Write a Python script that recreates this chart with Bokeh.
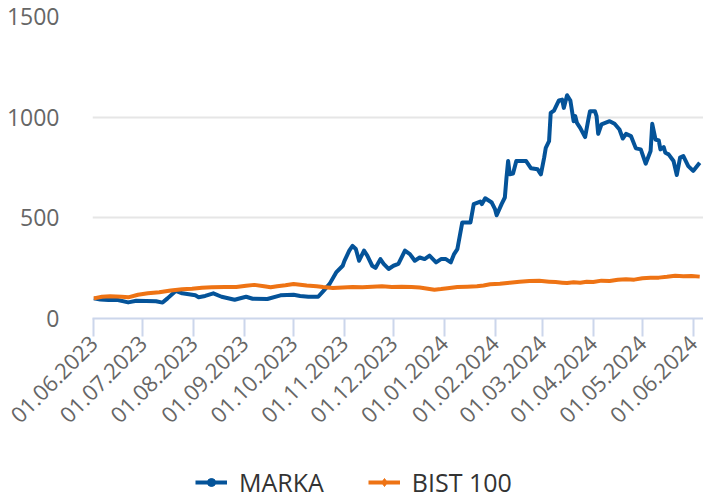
import math
import pandas as pd
from bokeh.plotting import figure
from bokeh.layouts import column
from bokeh.models import Range1d, FixedTicker, DatetimeTickFormatter, Legend, LegendItem
from bokeh.embed import file_html
from bokeh.resources import INLINE

start_date = pd.Timestamp("2023-06-01")

# MARKA (rebased to 100) - day offsets from 01.06.2023 and values
marka_day = [0, 4, 9, 14, 21, 26, 38, 42, 45, 50, 54, 58, 62, 64, 68, 73, 78, 86, 93, 97,
             106, 114, 122, 126, 131, 137, 140, 144, 148, 152, 153, 156, 158, 160, 162, 165,
             167, 170, 172, 175, 177, 180, 183, 186, 190, 193, 196, 199, 202, 205, 209, 212,
             215, 218, 220, 222, 225, 228, 230, 232, 236, 237, 239, 243, 245, 246, 249, 251,
             252, 253, 254, 256, 258, 264, 267, 271, 273, 275, 276, 278, 279, 281, 284, 286,
             287, 289, 291, 293, 294, 295, 297, 300, 302, 303, 306, 307, 308, 310, 315, 318,
             321, 323, 325, 328, 331, 334, 337, 340, 341, 343, 345, 346, 348, 349, 351, 354,
             356, 358, 360, 363, 366, 370]
marka_val = [100, 94, 92, 93, 80, 88, 86, 79, 100, 137, 125, 120, 115, 106, 112, 125, 108, 93, 108, 98,
             97, 115, 118, 112, 108, 108, 135, 172, 229, 262, 285, 337, 361, 345, 287, 337,
             312, 262, 251, 295, 271, 246, 262, 271, 337, 320, 287, 303, 295, 312, 279, 295,
             295, 279, 320, 345, 477, 477, 477, 568, 581, 568, 597, 576, 543, 513, 568, 601,
             700, 782, 716, 720, 782, 782, 746, 741, 716, 799, 848, 881, 1021, 1033, 1083, 1087,
             1046, 1109, 1083, 980, 1005, 972, 947, 901, 989, 1030, 1030, 1005, 917, 964, 980, 967,
             939, 894, 917, 906, 845, 840, 769, 832, 967, 889, 884, 840, 851, 823, 815, 782,
             713, 799, 807, 757, 733, 774]

# BIST 100 (rebased to 100)
bist_day = [0, 5, 10, 17, 21, 27, 33, 40, 47, 54, 60, 66, 72, 80, 87, 93, 98, 104, 108, 112,
            117, 122, 126, 130, 136, 140, 146, 152, 158, 164, 170, 176, 182, 188, 194, 199,
            204, 208, 212, 216, 222, 228, 234, 238, 242, 248, 254, 260, 266, 272, 278, 282,
            286, 289, 293, 297, 301, 305, 310, 315, 320, 325, 330, 335, 340, 345, 350, 355,
            360, 365, 370]
bist_val = [100, 108, 110, 108, 105, 118, 125, 130, 139, 145, 148, 153, 155, 156, 157, 163, 167, 160, 155, 160,
            165, 171, 168, 164, 160, 156, 152, 154, 157, 155, 158, 160, 157, 158, 156, 154,
            148, 143, 146, 150, 156, 158, 160, 164, 170, 173, 178, 182, 186, 187, 183, 181,
            178, 176, 180, 178, 183, 181, 188, 186, 192, 195, 193, 200, 202, 203, 207, 212,
            210, 211, 208]

y_ticks = [0, 500, 1000, 1500]
x_tick_dates = ["2023-06-01", "2023-07-01", "2023-08-01", "2023-09-01", "2023-10-01",
                "2023-11-01", "2023-12-01", "2024-01-01", "2024-02-01", "2024-03-01",
                "2024-04-01", "2024-05-01", "2024-06-01"]
series_names = ["MARKA", "BIST 100"]

BLUE = "#045399"
ORANGE = "#ee7314"
FONT = "Open Sans"

marka_x = [start_date + pd.Timedelta(days=d) for d in marka_day]
bist_x = [start_date + pd.Timedelta(days=d) for d in bist_day]

p = figure(width=703, height=465, x_axis_type="datetime",
           output_backend="svg", toolbar_location=None,
           x_range=Range1d(start_date - pd.Timedelta(hours=19), start_date + pd.Timedelta(days=372.3)),
           y_range=Range1d(0, 1500),
           min_border_left=92, min_border_right=0, min_border_top=16, min_border_bottom=147)
p.outline_line_color = None
p.background_fill_color = "white"
p.border_fill_color = "white"

p.xgrid.visible = False
p.ygrid.grid_line_color = "#e6e6e6"
p.ygrid.grid_line_width = 2

p.yaxis.ticker = FixedTicker(ticks=y_ticks)
p.yaxis.axis_line_color = None
p.yaxis.major_tick_line_color = None
p.yaxis.minor_tick_line_color = None
p.yaxis.major_label_text_font_size = "23px"
p.yaxis.major_label_text_color = "#666666"
p.yaxis.major_label_text_font = FONT
p.yaxis.major_label_standoff = 27

tick_ms = [pd.Timestamp(d).value // 10**6 for d in x_tick_dates]
p.xaxis.ticker = FixedTicker(ticks=tick_ms)
p.xaxis.formatter = DatetimeTickFormatter(days="%d.%m.%Y", months="%d.%m.%Y", years="%d.%m.%Y",
                                          hours="%d.%m.%Y", hourmin="%d.%m.%Y")
p.xaxis.axis_line_color = "#ccd6eb"
p.xaxis.axis_line_width = 2
p.xaxis.major_tick_line_color = "#ccd6eb"
p.xaxis.major_tick_line_width = 2
p.xaxis.major_tick_out = 18
p.xaxis.major_tick_in = 0
p.xaxis.minor_tick_line_color = None
p.xaxis.major_label_orientation = math.pi / 4
p.xaxis.major_label_text_font_size = "22px"
p.xaxis.major_label_text_color = "#666666"
p.xaxis.major_label_text_font = FONT
p.xaxis.major_label_standoff = 3

p.line(marka_x, marka_val, line_color=BLUE, line_width=4, line_join="round")
p.line(bist_x, bist_val, line_color=ORANGE, line_width=4, line_join="round")

# legend strip below the chart (its frame is aligned with the chart frame by the column)
lg = figure(width=703, height=34, output_backend="svg", toolbar_location=None,
            x_range=Range1d(0, 1), y_range=Range1d(0, 1),
            x_axis_location=None, y_axis_location=None,
            min_border_left=0, min_border_right=0, min_border_top=0, min_border_bottom=0)
lg.outline_line_color = None
lg.xgrid.visible = False
lg.ygrid.visible = False
nan = float("nan")
l_marka = lg.line(x=[nan, nan], y=[nan, nan], line_color=BLUE, line_width=4)
s_marka = lg.scatter(x=[nan], y=[nan], marker="circle", size=14, fill_color=BLUE, line_color=BLUE)
l_bist = lg.line(x=[nan, nan], y=[nan, nan], line_color=ORANGE, line_width=4)
s_bist = lg.scatter(x=[nan], y=[nan], marker="diamond", size=18, fill_color=ORANGE, line_color=ORANGE)

legend = Legend(items=[LegendItem(label=series_names[0], renderers=[l_marka, s_marka]),
                       LegendItem(label=series_names[1], renderers=[l_bist, s_bist])],
                orientation="horizontal", location=(103, 0),
                label_text_font_size="25px", label_text_color="#333333", label_text_font=FONT,
                glyph_width=32, glyph_height=20, label_standoff=12, spacing=44,
                padding=0, margin=0, border_line_color=None, background_fill_alpha=0)
lg.add_layout(legend, "center")

layout = column(p, lg, spacing=0)
open("out.html", "w").write(file_html(layout, INLINE))
